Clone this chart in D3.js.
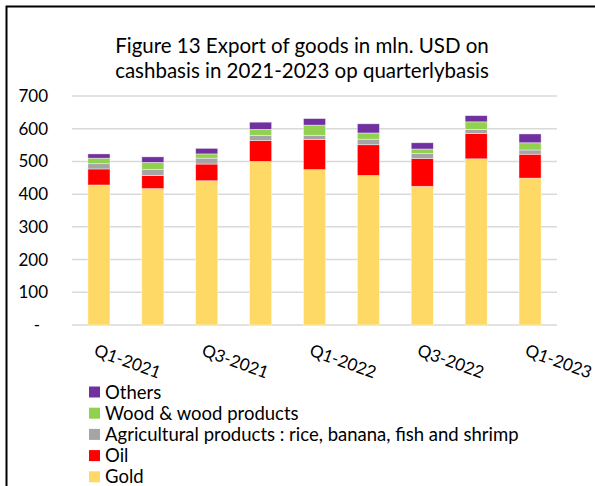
<!DOCTYPE html>
<html>
<head>
<meta charset="utf-8">
<script src="https://cdn.jsdelivr.net/npm/d3@7"></script>
<style>
  html, body { margin: 0; padding: 0; background: #fff; }
  svg { display: block; }
  text { font-family: Lato, "Open Sans", sans-serif; fill: #000; }
</style>
</head>
<body>
<svg id="chart" width="595" height="486"></svg>
<script>
// ---- Data (mln. USD) ----
const quarters = ["Q1-2021","Q2-2021","Q3-2021","Q4-2021","Q1-2022","Q2-2022","Q3-2022","Q4-2022","Q1-2023"];
const gold   = [428, 417, 441, 500, 475, 457, 424, 508, 449];
const oil    = [49, 40, 51, 64, 92, 94, 85, 77, 73];
const agri   = [16, 18, 18, 16, 13, 17, 15, 13, 13];
const wood   = [17, 22, 13, 18, 31, 19, 14, 23, 22];
const others = [13, 17, 17, 22, 20, 28, 19, 19, 27];
const seriesNames = ["Gold", "Oil", "Agricultural products : rice, banana, fish and shrimp", "Wood & wood products", "Others"];
const seriesColors = ["#FFD966", "#FF0000", "#A5A5A5", "#92D050", "#7030A0"];
const yTicks = [0, 100, 200, 300, 400, 500, 600, 700];
const shownLabels = ["Q1-2021", "Q3-2021", "Q1-2022", "Q3-2022", "Q1-2023"];
const titleLines = ["Figure 13 Export of goods in mln. USD on", "cashbasis in 2021-2023 op quarterlybasis"];

const seriesValues = [gold, oil, agri, wood, others];
const table = quarters.map((q, i) => {
  const row = { q };
  seriesNames.forEach((s, k) => row[s] = seriesValues[k][i]);
  return row;
});

const svg = d3.select("#chart");

// frame
svg.append("path")
  .attr("d", "M6.5,486 L6.5,6.5 L595,6.5")
  .attr("fill", "none").attr("stroke", "#000").attr("stroke-width", 2);

// title
svg.append("text")
  .attr("x", 302).attr("y", 53)
  .attr("text-anchor", "middle")
  .style("font-size", "20.5px")
  .selectAll("tspan").data(titleLines).join("tspan")
  .attr("x", 302)
  .attr("dy", (d, i) => i === 0 ? 0 : 25)
  .text(d => d);

const x = d3.scaleBand().domain(quarters).range([72, 557]).paddingInner(0.59).paddingOuter(0.295);
const y = d3.scaleLinear().domain([0, 700]).range([325, 96]);

// gridlines
svg.append("g").selectAll("line").data(yTicks).join("line")
  .attr("x1", 72).attr("x2", 557)
  .attr("y1", d => y(d)).attr("y2", d => y(d))
  .attr("stroke", "#D9D9D9").attr("stroke-width", 1.5);

// y axis labels
const yAxis = d3.axisLeft(y).tickValues(yTicks).tickSize(0).tickPadding(0)
  .tickFormat(d => d === 0 ? "-" : d3.format("d")(d));
const yg = svg.append("g").attr("transform", "translate(48,0)").call(yAxis);
yg.select(".domain").remove();
yg.selectAll("text")
  .style("font-family", "Lato, sans-serif").style("font-size", "17px")
  .attr("dx", d => d === 0 ? -8 : 0);

// stacked bars
const stack = d3.stack().keys(seriesNames);
const stacked = stack(table);
svg.append("g").selectAll("g").data(stacked).join("g")
  .attr("fill", (d, i) => seriesColors[i])
  .selectAll("rect").data(d => d).join("rect")
  .attr("x", d => x(d.data.q))
  .attr("width", x.bandwidth())
  .attr("y", d => y(d[1]))
  .attr("height", d => y(d[0]) - y(d[1]))
  .attr("stroke", "rgba(255,255,255,0.6)").attr("stroke-width", 0.7);

// x labels (every other category)
svg.append("g").selectAll("text").data(shownLabels).join("text")
  .attr("transform", d => `translate(${x(d) + x.bandwidth() / 2 - 6},355) rotate(20)`)
  .style("font-size", "17px")
  .text(d => d);

// legend (reverse order)
const legendOrder = seriesNames.map((s, i) => i).reverse();
const lg = svg.append("g").selectAll("g").data(legendOrder).join("g")
  .attr("transform", (d, i) => `translate(89,${392 + i * 21.2})`);
lg.append("rect").attr("x", 0).attr("y", -5.5).attr("width", 11).attr("height", 11)
  .attr("fill", d => seriesColors[d]);
lg.append("text").attr("x", 16).attr("y", 6.5)
  .style("font-size", "18.5px")
  .text(d => seriesNames[d]);
</script>
</body>
</html>
